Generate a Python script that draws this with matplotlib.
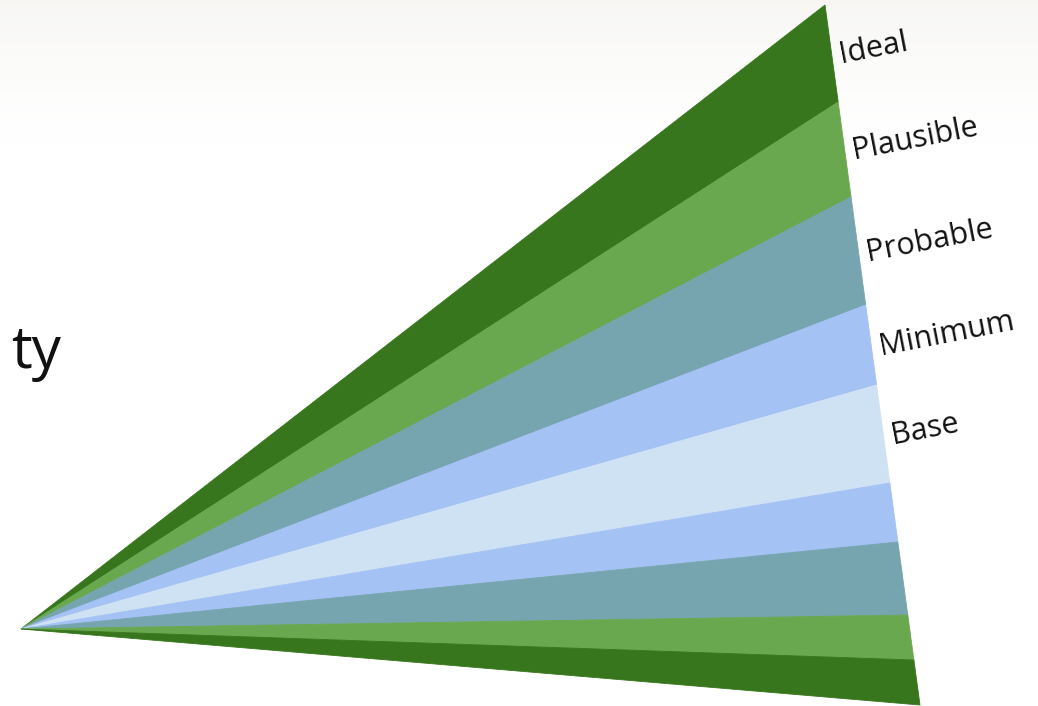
import matplotlib.pyplot as plt
import numpy as np

# cone apex and far edge (pixel coords of the picture)
apex = (21, 629)
edge_top = (825, 5)
edge_bottom = (920, 705)

# scenario bands, top to bottom, with where they meet the far edge (y)
bands = ['Ideal', 'Plausible', 'Probable', 'Minimum', 'Base',
         'Minimum', 'Probable', 'Plausible', 'Ideal']
edge_y = [5, 102, 197, 305, 385, 483, 542, 615, 660, 705]
colours = {'Ideal': '#38761d', 'Plausible': '#6aa84f', 'Probable': '#76a5af',
           'Minimum': '#a4c2f4', 'Base': '#cfe2f3'}
labelled = ['Ideal', 'Plausible', 'Probable', 'Minimum', 'Base']


def edge_x(y):
    t = (y - edge_top[1]) / (edge_bottom[1] - edge_top[1])
    return edge_top[0] + t * (edge_bottom[0] - edge_top[0])


fig = plt.figure(figsize=(10.38, 7.06), dpi=100)
ax = fig.add_axes([0, 0, 1, 1])
ax.set_xlim(0, 1038)
ax.set_ylim(706, 0)
ax.axis('off')

# faint haze at the top of the slide
grad = np.linspace(0, 1, 150).reshape(-1, 1)
ax.imshow(np.dstack([np.full_like(grad, 0.96), np.full_like(grad, 0.955),
                     np.full_like(grad, 0.94), 0.7 * (1 - grad) ** 1.5]),
          extent=(0, 1038, 150, 0), aspect='auto', zorder=0)

for i, name in enumerate(bands):
    y0, y1 = edge_y[i], edge_y[i + 1]
    xs = [apex[0], edge_x(y0), edge_x(y1)]
    ys = [apex[1], y0, y1]
    ax.fill(xs, ys, color=colours[name], lw=0.6, ec=colours[name], zorder=2)

for i, name in enumerate(bands[:len(labelled)]):
    mid = (edge_y[i] + edge_y[i + 1]) / 2
    ax.text(edge_x(mid) + 8, mid + 2, name, fontsize=22, family='Open Sans',
            rotation=11, rotation_mode='anchor', ha='left', va='center',
            color='#111111', zorder=3)

# tail of the slide title, the rest runs off the left edge
ax.text(61, 368, 'ty', fontsize=42, family='Open Sans', ha='right',
        va='baseline', color='#111111')

fig.savefig('out.png', dpi=100)
